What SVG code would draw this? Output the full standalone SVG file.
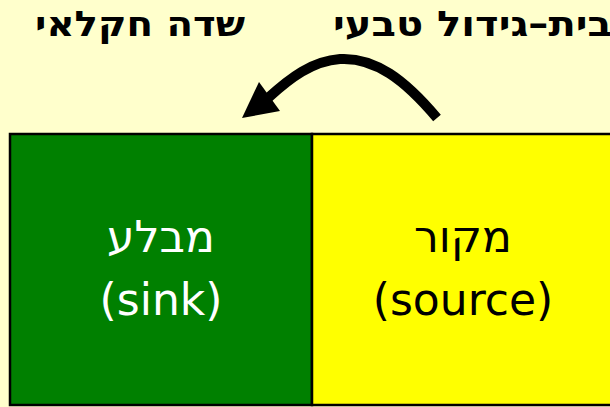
<svg xmlns="http://www.w3.org/2000/svg" width="610" height="407" viewBox="0 0 610 407">
  <style>
    .hdr { font-family: "DejaVu Sans", "Liberation Sans", sans-serif; font-weight: bold; font-size: 35px; fill: #000; }
    .lbl { font-family: "DejaVu Sans", "Liberation Sans", sans-serif; font-size: 44px; text-anchor: middle; }
    .box { stroke: #000; stroke-width: 2.5; }
  </style>
  <rect width="610" height="407" fill="#FFFFCC"/>

  <g id="header-natural">
    <text class="hdr" x="612" y="36" text-anchor="end" textLength="279" lengthAdjust="spacingAndGlyphs">בית–גידול טבעי</text>
  </g>
  <g id="header-field">
    <text class="hdr" x="140" y="36" text-anchor="middle" textLength="210" lengthAdjust="spacingAndGlyphs">שדה חקלאי</text>
  </g>

  <g id="sink">
    <rect class="box" x="10" y="134" width="302" height="271" fill="#008000"/>
    <text class="lbl" x="161" y="252" fill="#fff">מבלע</text>
    <text class="lbl" x="161" y="315" fill="#fff">(sink)</text>
  </g>
  <g id="source">
    <rect class="box" x="312" y="134" width="304" height="271" fill="#FFFF00"/>
    <text class="lbl" x="463" y="252" fill="#000">מקור</text>
    <text class="lbl" x="463" y="315" fill="#000">(source)</text>
  </g>

  <g id="connectors">
    <path d="M437,118 C405,80 375,57 340,59 C312,61 290,78 268,98" fill="none" stroke="#000" stroke-width="10"/>
    <polygon points="242,118 259,82 280,111" fill="#000"/>
  </g>
</svg>
